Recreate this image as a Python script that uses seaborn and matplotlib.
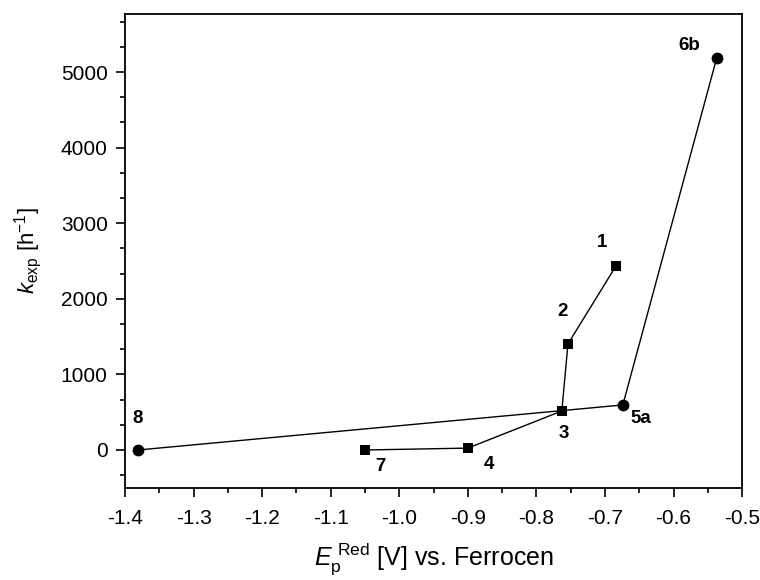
import matplotlib
matplotlib.use("Agg")
import matplotlib.pyplot as plt
from matplotlib.ticker import AutoMinorLocator
import pandas as pd
import seaborn as sns

# series 1 (squares): 7 -> 4 -> 3 -> 2 -> 1
sq_labels = ["7", "4", "3", "2", "1"]
sq_x = [-1.05, -0.90, -0.763, -0.754, -0.684]
sq_y = [0, 25, 516, 1404, 2435]

# series 2 (circles): 8 -> 5a -> 6b
ci_labels = ["8", "5a", "6b"]
ci_x = [-1.381, -0.674, -0.537]
ci_y = [0, 596, 5190]

# label offsets in points (dx, dy)
sq_offsets = [(11, -12), (15, -12), (1.5, -16), (-4, 23), (-10, 17)]
ci_offsets = [(0, 23), (13, -9.5), (-20, 9)]

sns.set_style("ticks")
plt.rcParams["font.family"] = ["Liberation Sans", "DejaVu Sans"]
plt.rcParams["mathtext.fontset"] = "custom"
plt.rcParams["mathtext.rm"] = "Liberation Sans"
plt.rcParams["mathtext.it"] = "Liberation Sans:italic"
plt.rcParams["text.color"] = "black"
plt.rcParams["axes.labelcolor"] = "black"
plt.rcParams["xtick.color"] = "black"
plt.rcParams["ytick.color"] = "black"

df_sq = pd.DataFrame({"x": sq_x, "y": sq_y})
df_ci = pd.DataFrame({"x": ci_x, "y": ci_y})

fig = plt.figure(figsize=(7.6, 5.8), dpi=100)
ax = fig.add_axes([0.1645, 0.159, 0.812, 0.817])

sns.lineplot(data=df_sq, x="x", y="y", sort=False, color="black", lw=1,
             marker="s", markersize=7, markeredgewidth=0, ax=ax)
sns.lineplot(data=df_ci, x="x", y="y", sort=False, color="black", lw=1,
             marker="o", markersize=8.5, markeredgewidth=0, ax=ax)

# point labels
for lab, x, y, off in zip(sq_labels, sq_x, sq_y, sq_offsets):
    ax.annotate(lab, (x, y), xytext=off, textcoords="offset points",
                ha="center", va="center", fontsize=13.5, fontweight="bold")
for lab, x, y, off in zip(ci_labels, ci_x, ci_y, ci_offsets):
    ax.annotate(lab, (x, y), xytext=off, textcoords="offset points",
                ha="center", va="center", fontsize=13.5, fontweight="bold")

ax.set_xlim(-1.4, -0.5)
ax.set_ylim(-500, 5770)
ax.xaxis.set_minor_locator(AutoMinorLocator(2))
ax.yaxis.set_minor_locator(AutoMinorLocator(3))
ax.set_xticks([-1.4, -1.3, -1.2, -1.1, -1.0, -0.9, -0.8, -0.7, -0.6, -0.5])
ax.set_xticklabels(["-1.4", "-1.3", "-1.2", "-1.1", "-1.0", "-0.9", "-0.8",
                    "-0.7", "-0.6", "-0.5"])
ax.set_yticks([0, 1000, 2000, 3000, 4000, 5000])
ax.tick_params(which="major", direction="out", length=6.5, width=1.2,
               labelsize=15, pad=6, top=False, right=False)
ax.tick_params(axis="x", which="major", pad=9)
ax.tick_params(which="minor", direction="out", length=3.5, width=1.2,
               top=False, right=False)
for s in ax.spines.values():
    s.set_linewidth(1.3)
    s.set_color("black")

ax.set_xlabel(r"$E_{\mathrm{p}}^{\ \mathrm{Red}}$ [V] vs. Ferrocen", fontsize=18,
              labelpad=9)
ax.set_ylabel(r"$k_{\mathrm{exp}}$ [h$^{-1}$]", fontsize=16, labelpad=12)

fig.savefig("out.png", dpi=100)
plt.close(fig)
